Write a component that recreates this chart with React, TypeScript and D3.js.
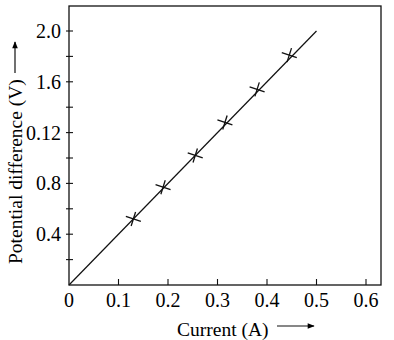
import * as d3 from "d3";
import { useEffect, useRef } from "react";

// measured points (current in A, potential difference in V)
const currentA = [0.13, 0.19, 0.255, 0.315, 0.38, 0.445];
const voltageV = [0.52, 0.77, 1.02, 1.28, 1.54, 1.81];

// best-fit straight line through the origin
const fitCurrent = [0, 0.5];
const fitVoltage = [0, 2.0];

const xTicks = [0.1, 0.2, 0.3, 0.4, 0.5, 0.6];
const xTickLabels = ["0.1", "0.2", "0.3", "0.4", "0.5", "0.6"];
const yTicks = [0.2, 0.4, 0.6, 0.8, 1.0, 1.2, 1.4, 1.6, 1.8, 2.0];
const yLabelValues = [0.4, 0.8, 1.2, 1.6, 2.0];
const yTickLabels = ["0.4", "0.8", "0.12", "1.6", "2.0"];

const FONT = "'Liberation Serif', 'Times New Roman', serif";

const App = () => {
  const svgRef = useRef<SVGSVGElement | null>(null);

  useEffect(() => {
    const svg = d3.select(svgRef.current).attr("width", 394).attr("height", 340);
    svg.selectAll("*").remove();

    const x = d3.scaleLinear().domain([0, 0.6]).range([69, 366]);
    const y = d3.scaleLinear().domain([0, 2]).range([285, 31]);
    const left = 69;
    const right = 381;
    const top = 6;
    const bottom = 285;

    const defs = svg.append("defs");
    defs
      .append("marker")
      .attr("id", "head")
      .attr("viewBox", "0 0 10 10")
      .attr("refX", 9)
      .attr("refY", 5)
      .attr("markerWidth", 10)
      .attr("markerHeight", 7)
      .attr("markerUnits", "userSpaceOnUse")
      .attr("orient", "auto")
      .append("path")
      .attr("d", "M0,1 L10,5 L0,9 Z")
      .attr("fill", "#000");

    // frame
    svg
      .append("rect")
      .attr("x", left)
      .attr("y", top)
      .attr("width", right - left)
      .attr("height", bottom - top)
      .attr("fill", "none")
      .attr("stroke", "#111")
      .attr("stroke-width", 1.3);

    // x ticks (inward)
    svg
      .selectAll(".xt")
      .data(xTicks)
      .enter()
      .append("line")
      .attr("x1", (d) => x(d))
      .attr("x2", (d) => x(d))
      .attr("y1", bottom)
      .attr("y2", bottom - 6)
      .attr("stroke", "#111")
      .attr("stroke-width", 1.1);

    svg
      .selectAll(".xl")
      .data(xTicks)
      .enter()
      .append("text")
      .attr("x", (d) => x(d))
      .attr("y", 307)
      .attr("text-anchor", "middle")
      .attr("font-family", FONT)
      .attr("font-size", 20)
      .text((d, i) => xTickLabels[i]);

    svg
      .append("text")
      .attr("x", x(0))
      .attr("y", 307)
      .attr("text-anchor", "middle")
      .attr("font-family", FONT)
      .attr("font-size", 20)
      .text("0");

    // y ticks (crossing the axis)
    svg
      .selectAll(".yt")
      .data(yTicks)
      .enter()
      .append("line")
      .attr("x1", left - 3)
      .attr("x2", left + 4)
      .attr("y1", (d) => y(d))
      .attr("y2", (d) => y(d))
      .attr("stroke", "#111")
      .attr("stroke-width", 1.1);

    svg
      .selectAll(".yl")
      .data(yLabelValues)
      .enter()
      .append("text")
      .attr("x", 61)
      .attr("y", (d) => y(d))
      .attr("dy", "0.35em")
      .attr("text-anchor", "end")
      .attr("font-family", FONT)
      .attr("font-size", 20)
      .text((d, i) => yTickLabels[i]);

    // fitted line
    const line = d3
      .line<number>()
      .x((d) => x(d))
      .y((d, i) => y(fitVoltage[i]));
    svg
      .append("path")
      .attr("d", line(fitCurrent))
      .attr("fill", "none")
      .attr("stroke", "#111")
      .attr("stroke-width", 1.2);

    // crosses
    const pts = svg
      .selectAll(".pt")
      .data(currentA)
      .enter()
      .append("g")
      .attr("transform", (d, i) => `translate(${x(d)},${y(voltageV[i])})`);
    pts
      .append("line")
      .attr("x1", -7.5)
      .attr("y1", -2.5)
      .attr("x2", 7.5)
      .attr("y2", 2.5)
      .attr("stroke", "#111")
      .attr("stroke-width", 1.3);
    pts
      .append("line")
      .attr("x1", -2.2)
      .attr("y1", 7)
      .attr("x2", 2.2)
      .attr("y2", -7)
      .attr("stroke", "#111")
      .attr("stroke-width", 1.3);

    // axis titles
    svg
      .append("text")
      .attr("x", 177)
      .attr("y", 336)
      .attr("font-family", FONT)
      .attr("font-size", 19.5)
      .text("Current (A)");
    svg
      .append("line")
      .attr("x1", 277)
      .attr("x2", 314)
      .attr("y1", 326)
      .attr("y2", 326)
      .attr("stroke", "#111")
      .attr("stroke-width", 1.2)
      .attr("marker-end", "url(#head)");

    svg
      .append("text")
      .attr("transform", "translate(22,264) rotate(-90)")
      .attr("font-family", FONT)
      .attr("font-size", 19.5)
      .text("Potential difference (V)");
    svg
      .append("line")
      .attr("x1", 15)
      .attr("x2", 15)
      .attr("y1", 73)
      .attr("y2", 42)
      .attr("stroke", "#111")
      .attr("stroke-width", 1.2)
      .attr("marker-end", "url(#head)");
  }, []);

  return (
    <div>
      <svg ref={svgRef} style={{ position: "absolute", left: 0, top: 0, background: "#fff" }}></svg>
    </div>
  );
};

export default App;
